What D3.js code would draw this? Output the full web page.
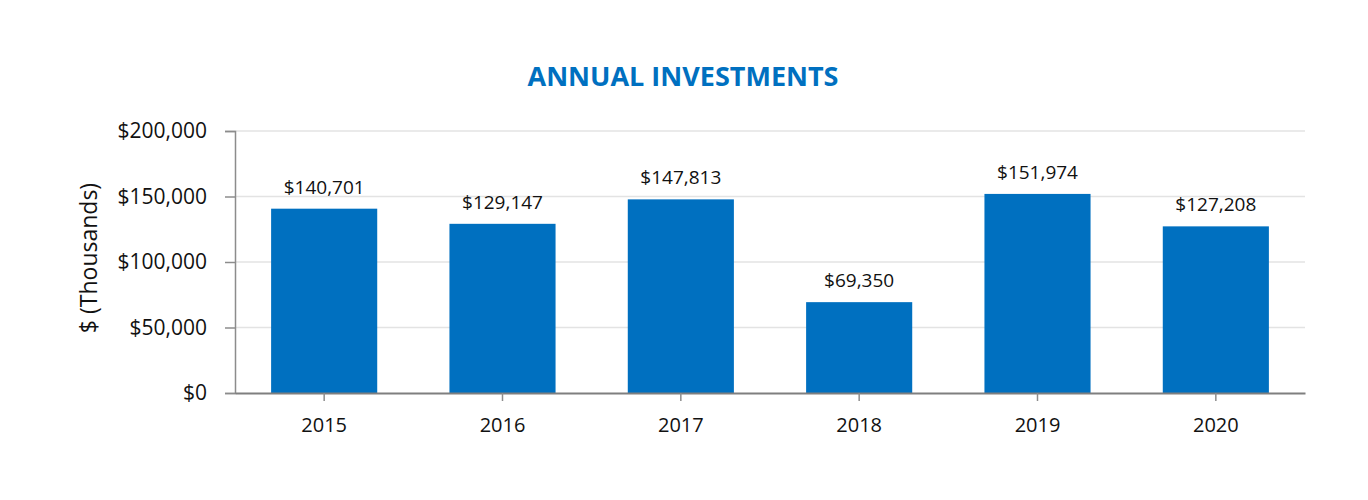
<!DOCTYPE html>
<html><head><meta charset="utf-8">
<script src="https://cdn.jsdelivr.net/npm/d3@7"></script>
<style>body{margin:0;background:#fff;} text{font-family:"Open Sans","Noto Sans",sans-serif;}</style>
</head><body>
<svg id="c" width="1368" height="500"></svg>
<script>
const years = ["2015","2016","2017","2018","2019","2020"];
const investments = [140701,129147,147813,69350,151974,127208];
const yTicks = [0,50000,100000,150000,200000];
const title = "ANNUAL INVESTMENTS";
const yTitle = "$ (Thousands)";

const svg = d3.select("#c");
const m = {l:235, r:1305, t:131, b:393};
const x = d3.scaleBand().domain(years).range([m.l, m.r]).paddingInner(0.405).paddingOuter(0.2025);
const y = d3.scaleLinear().domain([0,200000]).range([m.b, m.t]);
const fmt = d3.format(",");

svg.append("g").selectAll("line").data(yTicks.slice(1)).join("line")
  .attr("x1", m.l).attr("x2", m.r).attr("y1", d=>y(d)).attr("y2", d=>y(d))
  .attr("stroke", "#e3e3e3").attr("stroke-width", 1.5);

svg.append("g").selectAll("rect").data(investments).join("rect")
  .attr("x", (d,i)=>x(years[i])).attr("width", x.bandwidth())
  .attr("y", d=>y(d)).attr("height", d=>y(0)-y(d)).attr("fill", "#0070C0");

svg.append("g").selectAll("text").data(investments).join("text")
  .attr("x", (d,i)=>x(years[i])+x.bandwidth()/2).attr("y", d=>y(d)-15)
  .attr("text-anchor","middle").attr("font-size", 19).attr("fill","#111")
  .text(d=>"$"+fmt(d));

const ya = svg.append("g").attr("transform", `translate(${m.l},0)`)
  .call(d3.axisLeft(y).tickValues(yTicks).tickFormat(d=>"$"+fmt(d)).tickSize(10).tickPadding(18));
ya.select(".domain").attr("stroke","#8c8c8c").attr("stroke-width",1.5);
ya.selectAll(".tick line").attr("stroke","#8c8c8c").attr("stroke-width",1.5);
ya.selectAll("text").attr("font-size",21).attr("fill","#111").attr("font-family","'Open Sans',sans-serif");

const xa = svg.append("g").attr("transform", `translate(0,${m.b})`)
  .call(d3.axisBottom(x).tickSize(8).tickSizeOuter(0).tickPadding(17));
xa.select(".domain").attr("stroke","#7f7f7f").attr("stroke-width",2);
xa.selectAll(".tick line").attr("stroke","#8c8c8c").attr("stroke-width",1.5);
xa.selectAll("text").attr("font-size",20).attr("fill","#111").attr("font-family","'Open Sans',sans-serif");

svg.append("text").attr("x",683).attr("y",86).attr("text-anchor","middle")
  .attr("font-size",27).attr("font-weight","bold").attr("fill","#0070C0").text(title);

svg.append("text").attr("transform","translate(97,258) rotate(-90)").attr("text-anchor","middle")
  .attr("font-size",23).attr("fill","#111").text(yTitle);
</script>
</body></html>
